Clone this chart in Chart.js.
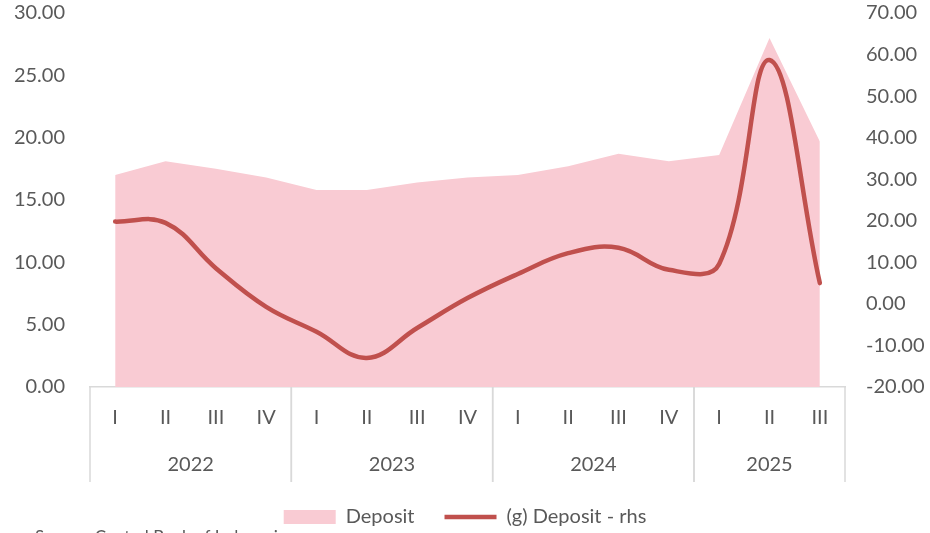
<!DOCTYPE html>
<html>
<head>
<meta charset="utf-8">
<script src="https://cdn.jsdelivr.net/npm/chart.js@4"></script>
<style>
  html, body { margin: 0; padding: 0; background: #fff; }
  #wrap { width: 930px; height: 533px; }
</style>
</head>
<body>
<div id="wrap"><canvas id="myChart"></canvas></div>
<script>
const quarters = ['I', 'II', 'III', 'IV', 'I', 'II', 'III', 'IV', 'I', 'II', 'III', 'IV', 'I', 'II', 'III'];
const years = ['2022', '2023', '2024', '2025'];
const yearSpans = [4, 4, 4, 3];
const deposit = [17.0, 18.1, 17.5, 16.8, 15.8, 15.8, 16.4, 16.8, 17.0, 17.7, 18.7, 18.1, 18.6, 28.0, 19.7];
const depositGrowth = [19.8, 19.5, 8.6, -0.7, -6.7, -13.0, -5.8, 1.4, 7.2, 12.2, 13.5, 8.2, 9.6, 58.7, 5.0];

const textColor = '#595959';
const lineColor = '#d9d9d9';

Chart.defaults.font.family = 'Lato';
Chart.defaults.font.size = 20;
Chart.defaults.color = textColor;

// year row under the quarters, with the group separators
const groupAxis = {
  id: 'groupAxis',
  afterDraw(chart) {
    const { ctx, scales: { x }, chartArea } = chart;
    const top = chartArea.bottom;
    const bottom = top + 95;
    const edge = (i) => {
      if (i === 0) return x.left;
      if (i === quarters.length) return x.right;
      return (x.getPixelForValue(i - 1) + x.getPixelForValue(i)) / 2;
    };
    ctx.save();
    ctx.strokeStyle = lineColor;
    ctx.lineWidth = 1.5;
    ctx.fillStyle = textColor;
    ctx.font = '20px Lato';
    ctx.textAlign = 'center';
    ctx.textBaseline = 'middle';
    let start = 0;
    years.forEach((yr, k) => {
      const end = start + yearSpans[k];
      const l = edge(start), r = edge(end);
      ctx.beginPath();
      ctx.moveTo(l, top);
      ctx.lineTo(l, bottom);
      ctx.moveTo(r, top);
      ctx.lineTo(r, bottom);
      ctx.stroke();
      ctx.fillText(yr, (l + r) / 2, top + 78);
      start = end;
    });
    // source note, mostly cut off at the bottom
    ctx.textAlign = 'left';
    ctx.textBaseline = 'top';
    ctx.font = '17px Lato';
    ctx.fillText('Source: Central Bank of Indonesia', 35, 529);
    ctx.restore();
  }
};

const data = {
  labels: quarters,
  datasets: [
    {
      label: 'Deposit',
      type: 'line',
      data: deposit,
      yAxisID: 'y',
      backgroundColor: 'rgb(249, 203, 211)',
      borderWidth: 0,
      fill: 'origin',
      tension: 0,
      pointRadius: 0,
      pointStyle: 'rect',
      order: 1,
    },
    {
      label: '(g) Deposit - rhs',
      type: 'line',
      data: depositGrowth,
      yAxisID: 'y1',
      borderColor: '#c0504d',
      backgroundColor: '#c0504d',
      borderWidth: 4.5,
      borderCapStyle: 'round',
      fill: false,
      tension: 0.4,
      pointRadius: 0,
      pointStyle: 'line',
      order: 0,
    }
  ]
};

const config = {
  type: 'line',
  data: data,
  options: {
    responsive: true,
    maintainAspectRatio: false,
    animation: false,
    layout: { padding: { top: 13, bottom: 0, left: 0, right: 0 } },
    scales: {
      x: {
        offset: true,
        grid: { display: false, drawTicks: false },
        border: { display: true, color: lineColor, width: 1.5 },
        ticks: { padding: 19, maxRotation: 0, autoSkip: false },
        afterFit: (scale) => { scale.height = 90; },
      },
      y: {
        position: 'left',
        min: 0,
        max: 30,
        grid: { display: false, drawTicks: false },
        border: { display: false },
        ticks: {
          stepSize: 5,
          padding: 25,
          callback: (v) => v.toFixed(2),
        },
        afterFit: (scale) => {
          scale.width = 90;
          scale.paddingTop = 0;
          scale.paddingBottom = 0;
        },
      },
      y1: {
        position: 'right',
        min: -20,
        max: 70,
        grid: { display: false, drawTicks: false },
        border: { display: false },
        ticks: {
          stepSize: 10,
          padding: 21,
          callback: (v) => v.toFixed(2),
        },
        afterFit: (scale) => {
          scale.width = 85;
          scale.paddingTop = 0;
          scale.paddingBottom = 0;
        },
      }
    },
    plugins: {
      legend: {
        position: 'bottom',
        maxHeight: 56,
        labels: {
          usePointStyle: true,
          pointStyleWidth: 52,
          boxHeight: 14,
          padding: 30,
          color: textColor,
          font: { size: 20 },
          sort: (a, b) => a.datasetIndex - b.datasetIndex,
        },
      },
      tooltip: { enabled: false },
    },
  },
  plugins: [groupAxis],
};

const myChart = new Chart(document.getElementById('myChart'), config);
</script>
</body>
</html>
